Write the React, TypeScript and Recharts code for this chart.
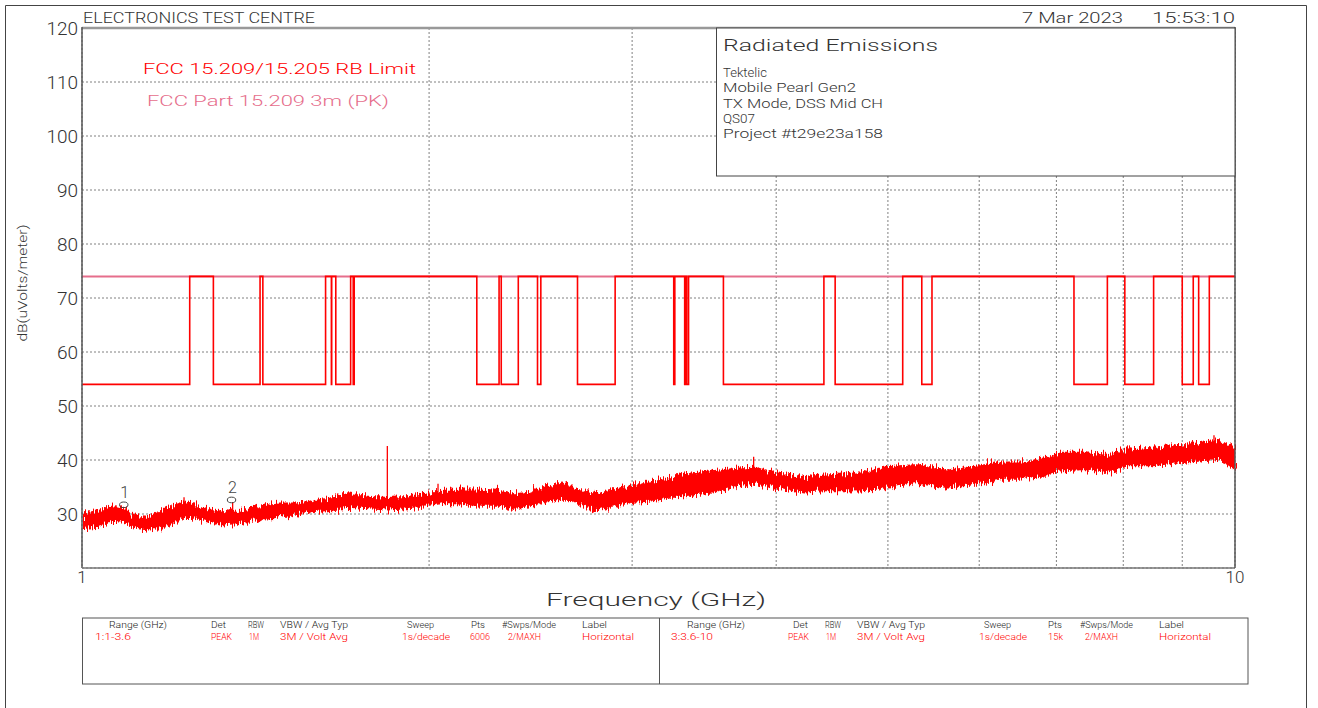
import React from 'react';
import { ComposedChart, Line, Area, XAxis, YAxis, CartesianGrid, ReferenceLine, ReferenceDot } from 'recharts';

// ---- Data ----
const bandFreqs = [1.0, 1.026, 1.064, 1.09, 1.107, 1.13, 1.152, 1.176, 1.199, 1.223, 1.248, 1.266, 1.297, 1.325, 1.349, 1.371, 1.398, 1.427, 1.456, 1.485, 1.536, 1.586, 1.651, 1.697, 1.767, 1.839, 1.913, 2.003, 2.044, 2.085, 2.128, 2.214, 2.304, 2.365, 2.446, 2.531, 2.613, 2.703, 2.797, 2.887, 3.006, 3.109, 3.315, 3.533, 3.744, 3.835, 3.991, 4.229, 4.445, 4.738, 4.982, 5.31, 5.627, 5.857, 6.254, 6.509, 6.829, 7.022, 7.409, 7.76, 8.091, 8.489, 8.96, 9.382, 9.705, 10.0];
const bandLow = [27.3, 27.6, 28.5, 28.3, 27.8, 27.0, 27.2, 27.6, 28.4, 29.4, 29.4, 28.9, 28.5, 28.0, 28.2, 28.3, 28.6, 29.0, 29.3, 29.5, 30.0, 30.5, 30.7, 31.3, 31.0, 30.8, 31.0, 31.7, 31.9, 32.0, 31.9, 31.5, 31.5, 30.9, 31.5, 32.2, 32.8, 31.9, 30.6, 31.5, 32.2, 32.4, 33.4, 34.0, 35.4, 35.8, 34.8, 34.1, 34.4, 34.3, 35.0, 35.7, 34.8, 35.2, 36.5, 36.5, 37.1, 38.0, 38.3, 37.7, 39.0, 39.0, 39.6, 39.9, 40.2, 38.3];
const bandHigh = [30.0, 30.6, 31.3, 30.8, 30.0, 29.5, 29.8, 30.7, 31.5, 32.2, 32.0, 31.1, 30.7, 30.2, 30.5, 30.4, 31.0, 31.5, 31.8, 32.0, 32.0, 32.4, 33.0, 33.9, 33.3, 33.0, 33.2, 33.9, 34.3, 34.4, 34.6, 34.6, 34.3, 33.7, 34.0, 35.2, 35.9, 34.3, 33.7, 34.6, 35.2, 35.8, 37.3, 38.0, 38.5, 38.6, 37.6, 36.9, 37.2, 37.6, 38.7, 39.1, 38.1, 38.5, 39.6, 39.6, 40.2, 41.4, 41.4, 40.8, 42.0, 42.3, 42.7, 43.3, 43.6, 42.3];

const spikeFreqs = [1.092, 1.226, 1.351, 1.84, 2.036, 3.824, 9.589];
const spikeTops = [31.3, 33.1, 32.2, 42.6, 35.6, 40.6, 44.6];
const spikeBases = [29.0, 30.0, 29.0, 31.5, 32.5, 36.5, 41.0];

const markerLabels = ['1', '2'];
const markerFreqs = [1.087, 1.348];
const markerLevels = [31.7, 32.6];

// FCC 15.205 restricted bands (GHz) -> 54 dB; elsewhere 74 dB
const restrictedBands: [number, number][] = [
  [0.96, 1.24], [1.3, 1.427], [1.435, 1.6265], [1.6455, 1.6465], [1.66, 1.71], [1.7188, 1.7222],
  [2.2, 2.3], [2.31, 2.39], [2.4835, 2.5], [2.69, 2.9], [3.26, 3.267], [3.332, 3.339], [3.3458, 3.358],
  [3.6, 4.4], [4.5, 5.15], [5.35, 5.46], [7.25, 7.75], [8.025, 8.5], [9.0, 9.2], [9.3, 9.5],
];
const limitLow = 54;
const limitHigh = 74;
const peakLimit = 74;

const yTicks = [30, 40, 50, 60, 70, 80, 90, 100, 110, 120];
const xTicks = [1, 2, 3, 4, 5, 6, 7, 8, 9, 10];

const tableHeadersLeft: [number, string, number][] = [[109, 'Range (GHz)', 58], [211, 'Det', 15], [248, 'RBW', 16], [280, 'VBW / Avg Typ', 68], [407, 'Sweep', 27], [471, 'Pts', 14], [502, '#Swps/Mode', 54], [582, 'Label', 25]];
const tableValuesLeft: [number, string, number][] = [[95, '1:1-3.6', 36], [211, 'PEAK', 21], [249, '1M', 10], [280, '3M / Volt Avg', 68], [402, '1s/decade', 48], [470, '6006', 20], [508, '2/MAXH', 33], [582, 'Horizontal', 52]];
const tableHeadersRight: [number, string, number][] = [[687, 'Range (GHz)', 58], [793, 'Det', 15], [825, 'RBW', 16], [857, 'VBW / Avg Typ', 68], [984, 'Sweep', 27], [1048, 'Pts', 14], [1080, '#Swps/Mode', 53], [1159, 'Label', 25]];
const tableValuesRight: [number, string, number][] = [[671, '3:3.6-10', 42], [788, 'PEAK', 21], [826, '1M', 10], [857, '3M / Volt Avg', 68], [979, '1s/decade', 48], [1048, '15k', 15], [1085, '2/MAXH', 33], [1159, 'Horizontal', 52]];

const infoLines = ['Tektelic', 'Mobile Pearl Gen2', 'TX Mode, DSS Mid CH', 'QS07', 'Project #t29e23a158'];
const infoLens = [44, 133, 160, 32, 160];

// ---- Derived tables ----
const bandData = bandFreqs.map((f, i) => ({ f, range: [bandLow[i], bandHigh[i]] }));

function buildLimit() {
  const pts: { f: number; v: number }[] = [];
  const inBand = (f: number) => restrictedBands.some(([a, b]) => f >= a && f <= b);
  pts.push({ f: 1, v: inBand(1) ? limitLow : limitHigh });
  for (const [a, b] of restrictedBands) {
    if (b < 1 || a > 10) continue;
    if (a > 1) {
      pts.push({ f: a, v: limitHigh });
      pts.push({ f: a, v: limitLow });
    }
    if (b < 10) {
      pts.push({ f: b, v: limitLow });
      pts.push({ f: b, v: limitHigh });
    }
  }
  pts.push({ f: 10, v: limitHigh });
  return pts;
}
const limitData = buildLimit();
const peakData = [{ f: 1, v: peakLimit }, { f: 10, v: peakLimit }];

const RED = '#ff0000';
const PINK = '#e66e8c';
const FONT = "Roboto, 'DejaVu Sans', sans-serif";
const W = 1318;
const H = 708;

const T = (p: { x: number; y: number; len?: number; size: number; fill?: string; children: string; anchor?: string }) => (
  <text
    x={p.x}
    y={p.y}
    fontSize={p.size}
    fill={p.fill || '#333'}
    fontFamily={FONT}
    fontWeight={300}
    textAnchor={p.anchor || 'start'}
    {...(p.len ? { textLength: p.len, lengthAdjust: 'spacingAndGlyphs' } : {})}
  >
    {p.children}
  </text>
);

const MarkerShape = (label: string) => (props: any) => {
  const { cx, cy } = props;
  return (
    <g>
      <ellipse cx={cx} cy={cy} rx={4.2} ry={2.8} fill="none" stroke="#444" strokeWidth={1} />
      <text x={cx + 1} y={cy - 7} fontSize={16} fill="#444" fontFamily={FONT} fontWeight={300} textAnchor="middle">{label}</text>
    </g>
  );
};

export default function App() {
  return (
    <div style={{ position: 'absolute', left: 0, top: 0, width: W, height: H, background: '#fff', overflow: 'hidden' }}>
      <svg width={0} height={0} style={{ position: 'absolute' }}>
        <defs>
          <filter id="noisyTrace" x="-2%" y="-60%" width="104%" height="220%" filterUnits="objectBoundingBox">
            <feTurbulence type="fractalNoise" baseFrequency="0.8 0.03" numOctaves={2} seed={7} result="turb" />
            <feDisplacementMap in="SourceGraphic" in2="turb" scale={14} xChannelSelector="B" yChannelSelector="R" />
          </filter>
        </defs>
      </svg>
      <style>{`.noiseband { filter: url(#noisyTrace); }`}</style>
      <div style={{ position: 'absolute', left: 0, top: 0 }}>
        <ComposedChart width={W} height={H} margin={{ top: 28, right: 83, bottom: 100, left: 22 }}>
          <CartesianGrid stroke="#808080" strokeDasharray="2 2" strokeWidth={1} />
          <XAxis
            dataKey="f"
            type="number"
            scale="log"
            domain={[1, 10]}
            ticks={xTicks}
            allowDataOverflow
            height={40}
            axisLine={false}
            tickLine={false}
            tickSize={1}
            tickMargin={2}
            interval={0}
            tickFormatter={(v: number) => (v === 1 || v === 10 ? String(v) : '')}
            tick={{ fontSize: 17, fill: '#333', fontFamily: FONT, fontWeight: 300 }}
          />
          <YAxis
            type="number"
            domain={[20, 120]}
            ticks={yTicks}
            width={60}
            axisLine={false}
            tickLine={false}
            tickSize={1}
            tickMargin={3}
            interval={0}
            tick={{ fontSize: 19, fill: '#333', fontFamily: FONT, fontWeight: 300 }}
          />
          <Line data={peakData} dataKey="v" type="linear" stroke={PINK} strokeWidth={2} dot={false} isAnimationActive={false} />
          <Line data={limitData} dataKey="v" type="linear" stroke={RED} strokeWidth={1.6} dot={false} isAnimationActive={false} />
          <Area className="noiseband" data={bandData} dataKey="range" type="linear" stroke={RED} strokeWidth={1.5} fill={RED} fillOpacity={1} isAnimationActive={false} />
          {spikeFreqs.map((f, i) => (
            <ReferenceLine key={'s' + i} segment={[{ x: f, y: spikeBases[i] }, { x: f, y: spikeTops[i] }]} stroke={RED} strokeWidth={1.3} />
          ))}
          {markerFreqs.map((f, i) => (
            <ReferenceDot key={'m' + i} x={f} y={markerLevels[i]} r={4} shape={MarkerShape(markerLabels[i])} />
          ))}
        </ComposedChart>
      </div>
      <svg width={W} height={H} style={{ position: 'absolute', left: 0, top: 0, pointerEvents: 'none' }}>
        {/* outer frame */}
        <path d="M5.5,708 V5.5 H1306.5 V708" fill="none" stroke="#444" strokeWidth={1} />
        {/* plot frame */}
        <line x1={82} y1={28} x2={1235} y2={28} stroke="#999" strokeWidth={2.5} />
        <line x1={82} y1={27} x2={82} y2={568} stroke="#555" strokeWidth={1.5} />
        <line x1={82} y1={568} x2={1235} y2={568} stroke="#777" strokeWidth={1.5} />
        <line x1={1235} y1={27} x2={1235} y2={568} stroke="#555" strokeWidth={1.5} />
        {/* header */}
        <T x={83} y={23} size={15} len={232}>ELECTRONICS TEST CENTRE</T>
        <T x={1022} y={23} size={15} len={101}>7 Mar 2023</T>
        <T x={1152} y={23} size={15} len={83}>15:53:10</T>
        {/* legend text */}
        <T x={143} y={74} size={15} len={273} fill={RED}>FCC 15.209/15.205 RB Limit</T>
        <T x={147} y={106} size={15} len={242} fill={PINK}>FCC Part 15.209 3m (PK)</T>
        {/* info box */}
        <rect x={716.5} y={28} width={518.5} height={148} fill="#fff" stroke="#444" strokeWidth={1} />
        <T x={723} y={51} size={17} len={215}>Radiated Emissions</T>
        {infoLines.map((s, i) => (
          <T key={s} x={723} y={77 + i * 15.3} size={13} len={infoLens[i]}>{s}</T>
        ))}
        {/* axis titles */}
        <T x={546} y={606} size={18} len={220}>Frequency (GHz)</T>
        <g transform="rotate(-90 27 283)">
          <T x={27} y={283} size={12.5} len={117} anchor="middle">dB(uVolts/meter)</T>
        </g>
        {/* bottom table */}
        <rect x={82.5} y={618} width={1165.5} height={66} fill="none" stroke="#555" strokeWidth={1} />
        <line x1={659.5} y1={618} x2={659.5} y2={684} stroke="#555" strokeWidth={1} />
        {tableHeadersLeft.concat(tableHeadersRight).map(([x, s, l], i) => (
          <T key={'h' + i} x={x} y={628} size={9.5} len={l} fill="#222">{s}</T>
        ))}
        {tableValuesLeft.concat(tableValuesRight).map(([x, s, l], i) => (
          <T key={'v' + i} x={x} y={639.5} size={9.5} len={l} fill={RED}>{s}</T>
        ))}
      </svg>
    </div>
  );
}
